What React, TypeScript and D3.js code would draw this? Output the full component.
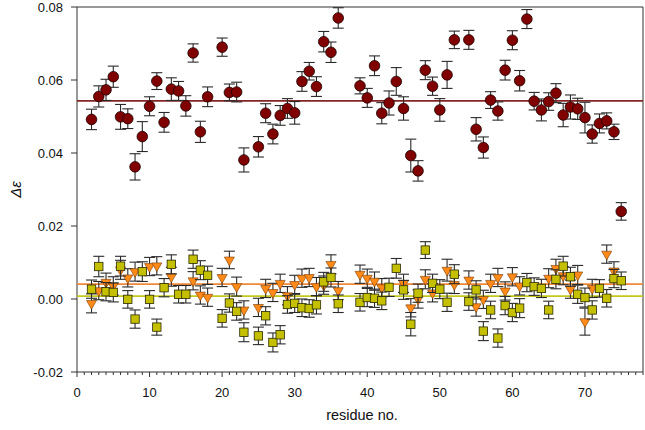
import React from "react";
import * as d3 from "d3";

const xTicks = [0, 10, 20, 30, 40, 50, 60, 70];
const yTicks = [-0.02, 0, 0.02, 0.04, 0.06, 0.08];
const yTickLabels = ["-0.02", "0.00", "0.02", "0.04", "0.06", "0.08"];

const redX = [2,3,4,5,6,7,8,9,10,11,12,13,14,15,16,17,18,20,21,22,23,25,26,27,28,29,30,31,32,33,34,35,36,39,40,41,42,43,44,45,46,47,48,49,50,51,52,54,55,56,57,58,59,60,61,62,63,64,65,66,67,68,69,70,71,72,73,74,75];
const redY = [0.0492,0.0555,0.0573,0.0609,0.0499,0.0494,0.0362,0.0445,0.0528,0.0597,0.0484,0.0575,0.0570,0.0529,0.0674,0.0458,0.0554,0.0690,0.0566,0.0567,0.0381,0.0417,0.0509,0.0452,0.0503,0.0522,0.0510,0.0596,0.0624,0.0582,0.0705,0.0676,0.0770,0.0584,0.0551,0.0639,0.0509,0.0537,0.0596,0.0522,0.0393,0.0351,0.0627,0.0583,0.0518,0.0614,0.0710,0.0710,0.0465,0.0415,0.0545,0.0515,0.0627,0.0709,0.0598,0.0767,0.0542,0.0518,0.0541,0.0564,0.0504,0.0526,0.0521,0.0497,0.0452,0.0481,0.0488,0.0458,0.0240];
const redErr = [0.0028,0.0029,0.0029,0.0029,0.0034,0.0027,0.0036,0.0041,0.0026,0.0023,0.0027,0.0031,0.0026,0.0028,0.0025,0.0029,0.0027,0.0025,0.0023,0.0027,0.0033,0.0028,0.0026,0.0027,0.0027,0.0027,0.0031,0.0027,0.0024,0.0027,0.0028,0.0028,0.0028,0.0022,0.0026,0.0027,0.0029,0.0033,0.0038,0.0032,0.0045,0.0028,0.0026,0.0025,0.0031,0.0037,0.0024,0.0026,0.0032,0.0029,0.0023,0.0025,0.0027,0.0026,0.0028,0.0026,0.0024,0.0030,0.0024,0.0026,0.0032,0.0033,0.0029,0.0042,0.0025,0.0026,0.0022,0.0021,0.0024];

const sqX = [2,3,4,5,6,7,8,9,10,11,12,13,14,15,16,17,18,20,21,22,23,25,26,27,28,29,30,31,32,33,34,35,36,39,40,41,42,43,44,45,46,47,48,49,50,51,52,54,55,56,57,58,59,60,61,62,63,64,65,66,67,68,69,70,71,72,73,74,75];
const sqY = [0.0027,0.0089,0.0020,0.0018,0.0090,-0.0001,-0.0055,0.0075,-0.0001,-0.0077,0.0031,0.0095,0.0013,0.0013,0.0109,0.0079,0.0065,-0.0053,-0.0011,-0.0034,-0.0091,-0.0101,-0.0046,-0.0119,-0.0098,-0.0015,-0.0012,-0.0024,-0.0026,-0.0016,0.0047,0.0059,-0.0013,-0.0009,0.0004,0.0002,-0.0005,0.0032,0.0084,0.0025,-0.0069,0.0016,0.0134,0.0043,0.0027,-0.0009,0.0068,-0.0007,0.0025,-0.0088,-0.0030,-0.0107,-0.0018,-0.0037,-0.0025,0.0045,0.0034,0.0029,-0.0030,0.0054,0.0090,0.0061,0.0013,0.0004,-0.0030,0.0029,0.0002,0.0056,0.0050];
const sqErr = [0.0025,0.0028,0.0025,0.0026,0.0027,0.0024,0.0025,0.0027,0.0024,0.0022,0.0025,0.0026,0.0024,0.0024,0.0025,0.0026,0.0025,0.0024,0.0025,0.0024,0.0026,0.0024,0.0025,0.0026,0.0025,0.0024,0.0025,0.0024,0.0024,0.0025,0.0026,0.0026,0.0024,0.0024,0.0025,0.0025,0.0024,0.0025,0.0027,0.0026,0.0032,0.0025,0.0023,0.0025,0.0026,0.0025,0.0026,0.0024,0.0025,0.0026,0.0024,0.0025,0.0025,0.0025,0.0026,0.0025,0.0024,0.0025,0.0024,0.0026,0.0027,0.0026,0.0025,0.0026,0.0025,0.0024,0.0024,0.0025,0.0024];

const triX = [2,3,4,5,6,7,8,10,11,13,16,17,18,20,21,22,23,25,26,27,28,29,30,31,32,33,34,35,36,39,40,41,42,45,46,47,48,49,51,52,54,55,56,57,58,59,60,61,65,66,67,68,69,70,71,73,74];
const triY = [-0.0012,0.0023,0.0046,0.0036,0.0080,0.0058,0.0075,0.0089,0.0091,0.0061,0.0050,0.0011,0.0005,0.0059,0.0107,0.0034,-0.0030,-0.0023,0.0029,0.0018,0.0043,0.0009,0.0040,0.0057,0.0059,0.0034,0.0038,0.0095,0.0023,0.0068,0.0057,0.0049,0.0031,0.0043,-0.0024,0.0000,0.0054,0.0017,0.0079,0.0040,0.0052,-0.0021,-0.0001,0.0043,0.0059,0.0022,0.0061,0.0036,0.0057,0.0084,0.0064,0.0027,0.0066,-0.0062,0.0029,0.0123,0.0077];
const triErr = [0.0026,0.0025,0.0025,0.0025,0.0026,0.0025,0.0026,0.0025,0.0025,0.0026,0.0025,0.0025,0.0025,0.0025,0.0024,0.0026,0.0025,0.0025,0.0025,0.0025,0.0025,0.0025,0.0025,0.0025,0.0025,0.0025,0.0025,0.0026,0.0025,0.0025,0.0025,0.0025,0.0025,0.0025,0.0025,0.0025,0.0026,0.0025,0.0030,0.0025,0.0025,0.0026,0.0025,0.0025,0.0025,0.0025,0.0025,0.0025,0.0026,0.0025,0.0025,0.0025,0.0026,0.0037,0.0025,0.0025,0.0025];

const redMean = 0.0543;
const triMean = 0.0041;
const sqMean = 0.0008;

const W = 645, H = 430;
const left = 77, right = 643, top = 7, bottom = 372;
const font = "'Liberation Sans', Arial, sans-serif";

export default function App() {
  const x = d3.scaleLinear().domain([0, 78]).range([left, right]);
  const y = d3.scaleLinear().domain([-0.02, 0.08]).range([bottom, top]);
  const minor = d3.range(0, 79, 1);
  const errCol = "#2a2a2a";
  const cap = 5.5;

  const errBar = (xv: number, yv: number, e: number, k: string) => {
    const cx = x(xv), y1 = y(yv + e), y2 = y(yv - e);
    return (
      <g key={k} stroke={errCol} strokeWidth={1.1}>
        <line x1={cx} x2={cx} y1={y1} y2={y2} />
        <line x1={cx - cap} x2={cx + cap} y1={y1} y2={y1} />
        <line x1={cx - cap} x2={cx + cap} y1={y2} y2={y2} />
      </g>
    );
  };

  const tri = d3.symbol().type(d3.symbolTriangle).size(44)();

  return (
    <svg width={W} height={H} style={{ position: "absolute", left: 0, top: 0, background: "#fff" }}>
      <g stroke="#333" strokeWidth={1} fill="none">
        <line x1={left} x2={right} y1={top} y2={top} />
        <line x1={right} x2={right} y1={top} y2={bottom} />
        <line x1={left} x2={left} y1={top} y2={bottom} />
        <line x1={left} x2={right} y1={bottom} y2={bottom} />
      </g>
      <g stroke="#333" strokeWidth={1}>
        {minor.map((m) => (
          <line key={"m" + m} x1={x(m)} x2={x(m)} y1={bottom} y2={bottom + (m % 10 === 0 ? 5 : 3)} />
        ))}
        {yTicks.map((t) => (
          <line key={"y" + t} x1={left - 6} x2={left} y1={y(t)} y2={y(t)} />
        ))}
      </g>
      <g fontFamily={font} fontSize={13} fill="#111">
        {xTicks.map((t) => (
          <text key={"xl" + t} x={x(t)} y={397} textAnchor="middle">{t}</text>
        ))}
        {yTicks.map((t, i) => (
          <text key={"yl" + t} x={63} y={y(t) + 4.5} textAnchor="end">{yTickLabels[i]}</text>
        ))}
      </g>
      <text x={362} y={420} textAnchor="middle" fontFamily={font} fontSize={14.5} fill="#111">residue no.</text>
      <text transform={`translate(21,${(top + bottom) / 2}) rotate(-90)`} textAnchor="middle" fontFamily={font} fontSize={15} fontStyle="italic" fill="#111">Δε</text>

      <line x1={left} x2={right} y1={y(redMean)} y2={y(redMean)} stroke="#842424" strokeWidth={1.8} />
      <line x1={left} x2={right} y1={y(triMean)} y2={y(triMean)} stroke="#f08838" strokeWidth={1.8} />
      <line x1={left} x2={right} y1={y(sqMean)} y2={y(sqMean)} stroke="#c4c81c" strokeWidth={1.8} />

      {redX.map((v, i) => errBar(v, redY[i], redErr[i], "re" + i))}
      {redX.map((v, i) => (
        <circle key={"rc" + i} cx={x(v)} cy={y(redY[i])} r={5.3} fill="#800000" stroke="#1a0000" strokeWidth={0.8} />
      ))}

      {triX.map((v, i) => errBar(v, triY[i], triErr[i], "te" + i))}
      {triX.map((v, i) => (
        <path key={"tp" + i} d={tri} transform={`translate(${x(v)},${y(triY[i])}) rotate(180)`} fill="#ff8a18" stroke="#7a3a00" strokeWidth={0.6} />
      ))}

      {sqX.map((v, i) => errBar(v, sqY[i], sqErr[i], "se" + i))}
      {sqX.map((v, i) => (
        <rect key={"sr" + i} x={x(v) - 4.2} y={y(sqY[i]) - 4.2} width={8.4} height={8.4} fill="#c4c000" stroke="#2a2a00" strokeWidth={0.8} />
      ))}
    </svg>
  );
}
